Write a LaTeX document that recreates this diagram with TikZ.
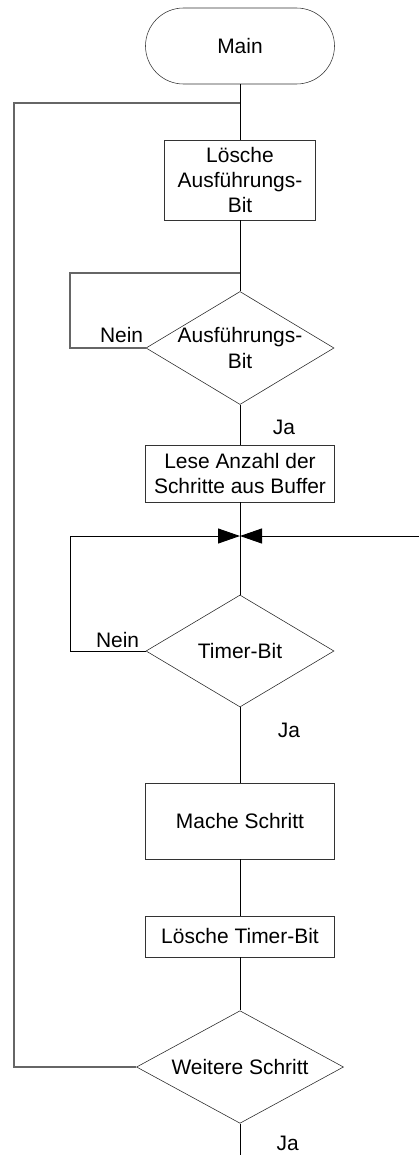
\documentclass[tikz,border=0pt]{standalone}
\usepackage{fontspec}
\setmainfont{Liberation Sans}
\usetikzlibrary{arrows.meta, positioning, shapes.geometric}

\begin{document}
\begin{tikzpicture}[
    x=1mm, y=-1mm,
    every node/.style={font=\fontsize{14.9}{18}\selectfont}, % Schrift
    term/.style={draw=black!80, rounded corners=9.5mm, minimum width=47.25mm, minimum height=19mm}, % Start
    proc/.style={draw=black!80, align=center, inner sep=0pt, minimum width=47.25mm}, % Aktion
    decis/.style={draw=black!85, diamond, align=center, inner sep=-1mm, aspect=1.66,
                  minimum width=47mm, minimum height=28.25mm}, % Abfrage
    flow/.style={black, line width=0.7pt}, % Verbindung
    loop/.style={black!60, line width=1pt}, % Rueckfuehrung
    merge/.style={flow, -{Triangle[length=5.5mm, width=3.75mm]}} % Zusammenfuehrung
]
    \useasboundingbox (0,0) rectangle (104.75,288.75);

    % 1. Bloecke
    \node[term] (main) at (60,11.5) {Main};
    \node[proc, minimum width=37.75mm, minimum height=20mm] (clrexec) at (60,45) {L\"osche\\Ausf\"uhrungs-\\Bit};
    \node[decis] (chkexec) at (60,87) {Ausf\"uhrungs-\\Bit};
    \node[proc, minimum height=14.25mm] (readcnt) at (60,118.4) {Lese Anzahl der\\Schritte aus Buffer};
    \node[decis, minimum height=28mm] (chktimer) at (60,162.75) {Timer-Bit};
    \node[proc, minimum height=19mm] (dostep) at (60,205.25) {Mache Schritt};
    \node[proc, minimum height=10.25mm] (clrtimer) at (60,234.1) {L\"osche Timer-Bit};
    \node[decis, aspect=1.84, minimum width=51.75mm, minimum height=28.15mm] (morestep) at (60,266.75) {Weitere Schritt};

    % 2. Hilfspunkte
    \coordinate (j1) at (60,25.75);
    \coordinate (back) at (3.5,25.75);
    \coordinate (j2) at (60,68.25);
    \coordinate (wait1) at (17.5,68.25);
    \coordinate (j3) at (60,134);
    \coordinate (wait2) at (17.5,134);
    \coordinate (in) at (104.75,134);
    \coordinate (out) at (60,288.75);

    % 3. Hauptpfad
    \draw[flow] (main) -- (clrexec);
    \draw[flow] (clrexec) -- (chkexec);
    \draw[flow] (chkexec) -- (readcnt);
    \draw[flow] (readcnt) -- (chktimer);
    \draw[flow] (chktimer) -- (dostep);
    \draw[flow] (dostep) -- (clrtimer);
    \draw[flow] (clrtimer) -- (morestep);
    \draw[flow] (morestep) -- (out);

    % 4. Schleifen
    \draw[loop] (morestep.west) -| (back) -- (j1);
    \draw[loop] (chkexec.west) -| (wait1) -- (j2);
    \draw[merge] (chktimer.west) -| (wait2) -- (j3);
    \draw[merge] (in) -- (j3);

    % 5. Beschriftung
    \node (nein1) at (30.4,83.7) {Nein};
    \node (ja1) at (71,106.75) {Ja};
    \node (nein2) at (29.4,160.1) {Nein};
    \node (ja2) at (72.25,182.5) {Ja};
    \node[inner ysep=1pt] (ja3) at (71.9,285.9) {Ja};

\end{tikzpicture}
\end{document}
